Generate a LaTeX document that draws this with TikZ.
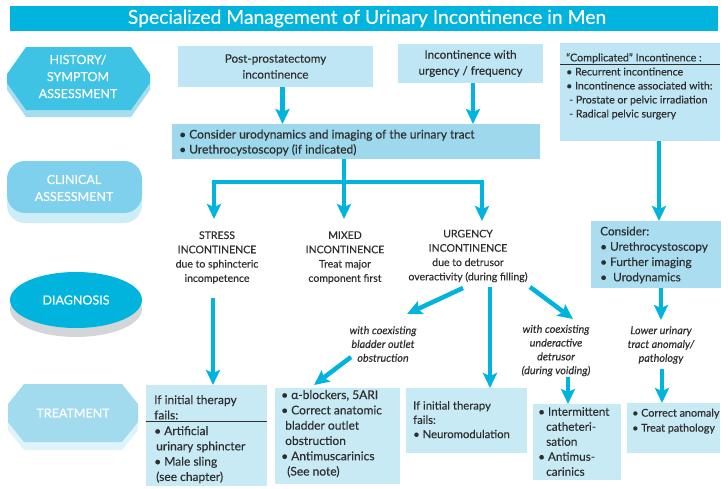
\documentclass[tikz,border=0pt]{standalone}
\usepackage{fontspec}
\setmainfont{Lato}[FakeBold=0.25]
\usetikzlibrary{arrows.meta,calc,shapes.geometric}
\definecolor{cy}{HTML}{00B4DE}
\definecolor{histC}{HTML}{3FC3E5}
\definecolor{histS}{HTML}{A6DEF0}
\definecolor{clinC}{HTML}{7FD0EC}
\definecolor{clinS}{HTML}{CDEDF8}
\definecolor{diagS}{HTML}{D3D6D9}
\definecolor{treatC}{HTML}{A3DBEE}
\definecolor{treatS}{HTML}{DFF3FA}
\definecolor{boxL}{HTML}{BEE6F4}
\definecolor{boxM}{HTML}{9DD8EC}
\definecolor{boxC}{HTML}{A9DDEF}
\definecolor{boxT}{HTML}{C8EAF5}
\definecolor{txtc}{HTML}{2E2E2E}
\begin{document}
\begin{tikzpicture}[x=1pt,y=-1pt,
  arr/.style={draw=cy, line width=4.5pt, -{Stealth[length=15pt,width=14pt,inset=3pt]}},
  ln/.style={draw=cy, line width=4.5pt},
  box/.style={anchor=north west, inner sep=0pt, outer sep=0pt},
  lab/.style={text=white, font=\fontsize{12.5}{17}\selectfont, align=center, inner sep=0pt},
  txt/.style={text=txtc, font=\fontsize{12}{15.3}\selectfont, align=left, inner sep=0pt, anchor=north west},
  ctxt/.style={text=txtc, font=\fontsize{10.5}{14.3}\selectfont, align=center, inner sep=0pt},
  itx/.style={text=txtc, font=\fontsize{10.8}{13.8}\selectfont\itshape, align=center, inner sep=0pt}
]
\useasboundingbox (0,0) rectangle (728,488);
% title
\fill[cy] (10,6) rectangle (718,31);
\node[text=white, font=\fontsize{19.3}{22}\selectfont, inner sep=0pt] (title) at (367,18.5) {Specialized Management of Urinary Incontinence in Men};

% left stage shapes
\fill[histS] (26,54) -- (131,54) -- (150,81) -- (150,90) -- (131,117) -- (26,117) -- (7,90) -- (7,81) -- cycle;
\fill[histC] (26,47) -- (131,47) -- (150,74) -- (150,83) -- (131,110) -- (26,110) -- (7,83) -- (7,74) -- cycle;
\node[lab] (hist) at (78,76.5) {HISTORY/\\SYMPTOM\\ASSESSMENT};

\fill[clinS, rounded corners=18pt] (7,171) rectangle (142,223);
\fill[clinC, rounded corners=18pt] (7,161) rectangle (142,213);
\node[lab] (clin) at (74,188) {CLINICAL\\ASSESSMENT};

\fill[diagS] (76,309) ellipse [x radius=66, y radius=28];
\fill[cy] (76,300) ellipse [x radius=66, y radius=28];
\node[lab] (diag) at (76,300) {DIAGNOSIS};

\fill[treatS] (24,392) -- (122,392) -- (138,412) -- (138,430) -- (122,450) -- (24,450) -- (8,430) -- (8,412) -- cycle;
\fill[treatC] (24,384) -- (122,384) -- (138,404) -- (138,422) -- (122,442) -- (24,442) -- (8,422) -- (8,404) -- cycle;
\node[lab] (treat) at (73,413) {TREATMENT};

% top boxes
\node[box, fill=boxL, minimum width=195pt, minimum height=41pt, text=txtc, font=\fontsize{11.7}{16}\selectfont, align=center] (post) at (178,46) {Post-prostatectomy\\incontinence};
\node[box, fill=boxL, minimum width=145pt, minimum height=39pt, text=txtc, font=\fontsize{11.7}{16}\selectfont, align=center] (urg0) at (398,44) {Incontinence with\\urgency / frequency};
\node[box, fill=boxM, minimum width=368pt, minimum height=35pt] (cu) at (172,124) {};
\node[txt, font=\fontsize{12}{15}\selectfont] (cuT) at (179,129.5) {• Consider urodynamics and imaging of the urinary tract\\• Urethrocystoscopy (if indicated)};

\node[box, fill=boxL, minimum width=160pt, minimum height=98pt] (comp) at (560,43) {};
\node[txt, font=\fontsize{10.7}{14}\selectfont] (compH) at (566,53) {“Complicated” Incontinence :};
\draw[txtc, line width=0.7pt] (comp.west |- 0,64) -- (comp.east |- 0,64);
\node[txt, font=\fontsize{10.6}{14}\selectfont] (compT) at (566,67.5) {• Recurrent incontinence\\• Incontinence associated with:\\\hspace*{3pt}- Prostate or pelvic irradiation\\\hspace*{3pt}- Radical pelvic surgery};

\draw[arr] ([xshift=7pt]post.south) -- ([xshift=7pt]post.south |- cu.north);
\draw[arr] ([xshift=2.5pt]urg0.south) -- ([xshift=2.5pt]urg0.south |- cu.north);

% consider (right)
\node[box, fill=boxC, minimum width=130pt, minimum height=67pt] (cons) at (591,221) {};
\node[txt, font=\fontsize{11.8}{15.3}\selectfont] (consT) at (600,226.5) {Consider:\\• Urethrocystoscopy\\• Further imaging\\•\ \ Urodynamics};
\draw[arr] (comp.south -| 659,0) -- (cons.north -| 659,0);
\node[itx] (lut) at (661,345) {Lower urinary\\tract anomaly/\\pathology};
\draw[arr] (cons.south -| 661,0) -- (661,320);
\node[box, fill=boxT, minimum width=93pt, minimum height=50pt] (tbC) at (627,403) {};
\node[txt, font=\fontsize{10.8}{15}\selectfont] (tbCT) at (632,408.5) {• Correct anomaly\\• Treat pathology};
\draw[arr] (662,369) -- (tbC.north -| 662,0);

% diagnosis
\node[ctxt] (stress) at (217,257.5) {STRESS\\INCONTINENCE\\due to sphincteric\\incompetence};
\node[ctxt] (mixed) at (345,257.5) {MIXED\\INCONTINENCE\\Treat major\\component first};
\node[ctxt] (urg) at (468,256) {URGENCY\\INCONTINENCE\\due to detrusor\\overactivity (during filling)};
\coordinate (j) at (344,182);
\draw[ln] (cu.south -| j) -- (j);
\draw[arr] (j) -| (214,219);
\draw[arr] (j) -- (344,219);
\draw[arr] (j) -| (482,221);

% treatment boxes
\node[box, fill=boxT, minimum width=121pt, minimum height=101pt] (tbS) at (146,385) {};
\node[txt] (tbSH) at (154,395) {If initial therapy\\fails:};
\draw[txtc, line width=0.8pt] (tbS.west |- 0,421) -- (tbS.east |- 0,421);
\node[txt] (tbST) at (154,426) {• Artificial\\\hspace*{2pt}urinary sphincter\\• Male sling\\\hspace*{2pt}(see chapter)};
\coordinate (sA) at (213,298);
\draw[arr] (sA) -- (sA |- tbS.north);

\node[box, fill=boxT, minimum width=125pt, minimum height=96pt] (tbA) at (275,388) {};
\node[txt] (tbAT) at (281,390) {• α-blockers, 5ARI\\• Correct anatomic\\\hspace*{4pt}bladder outlet\\\hspace*{4pt}obstruction\\• Antimuscarinics\\\hspace*{6pt}(See note)};

\node[box, fill=boxT, minimum width=121pt, minimum height=65pt] (tbN) at (406,388) {};
\node[txt, font=\fontsize{11.3}{14.3}\selectfont] (tbNT) at (413,401) {If initial therapy\\fails:\\• Neuromodulation};

\node[box, fill=boxT, minimum width=88pt, minimum height=76pt] (tbI) at (533,404) {};
\node[txt, font=\fontsize{11.7}{15}\selectfont] (tbIT) at (538,407) {• Intermittent\\\hspace*{8pt}catheteri-\\\hspace*{8pt}sation\\• Antimus-\\\hspace*{8pt}carinics};

\node[itx] (bo) at (383,344) {with coexisting\\bladder outlet\\obstruction};
\node[itx] (ud) at (556,350.5) {with coexisting\\underactive\\detrusor\\(during voiding)};

\coordinate (u1) at (463,288);
\coordinate (u1e) at (407,314);
\coordinate (u2) at (490,287);
\coordinate (u3) at (530,287);
\coordinate (u3e) at (573,319);
\draw[arr] (u1) -- (u1e);
\draw[arr] (u2) -- (u2 |- tbN.north);
\draw[arr] (u3) -- (u3e);
\coordinate (b1) at (351,357);
\coordinate (b1e) at (314,385);
\draw[arr] (b1) -- (b1e);
\coordinate (d1) at (568,377);
\draw[arr] (d1) -- (d1 |- tbI.north);
\end{tikzpicture}
\end{document}
